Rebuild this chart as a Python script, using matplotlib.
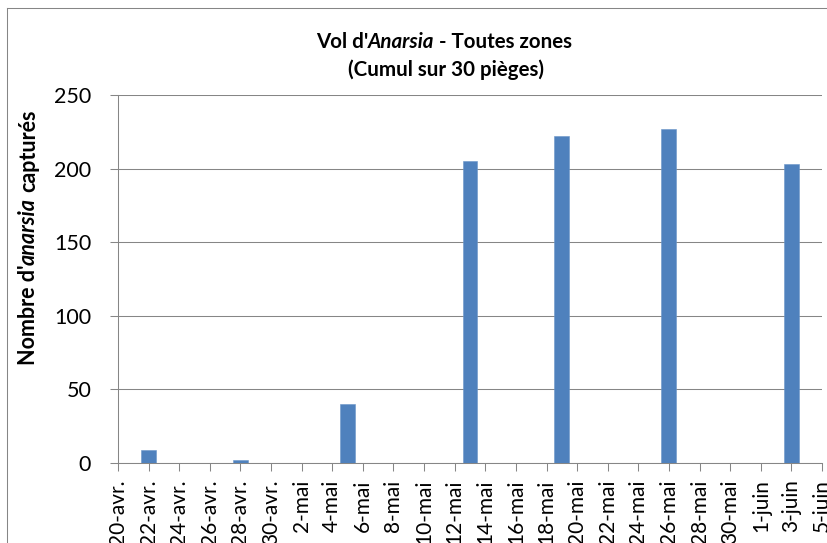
import matplotlib
matplotlib.use("Agg")
import matplotlib.pyplot as plt
import numpy as np
import pandas as pd
from matplotlib.lines import Line2D

# ---------------- data ----------------
dates = ["2013-04-22", "2013-04-28", "2013-05-05", "2013-05-13",
         "2013-05-19", "2013-05-26", "2013-06-03"]
captures = [9, 2, 40, 205, 222, 227, 203]

axis_start = "2013-04-20"
axis_end = "2013-06-05"
tick_labels = ["20-avr.", "22-avr.", "24-avr.", "26-avr.", "28-avr.", "30-avr.",
               "2-mai", "4-mai", "6-mai", "8-mai", "10-mai", "12-mai", "14-mai",
               "16-mai", "18-mai", "20-mai", "22-mai", "24-mai", "26-mai",
               "28-mai", "30-mai", "1-juin", "3-juin", "5-juin"]
y_ticks = [0, 50, 100, 150, 200, 250]

title_line1 = [("Vol d'", False), ("Anarsia", True), (" - Toutes zones", False)]
title_line2 = "(Cumul sur 30 pièges)"
ylabel_parts = [("Nombre d'", False), ("anarsia", True), (" capturés", False)]

# ---------------- style ----------------
FONT = ["Lato", "DejaVu Sans"]
plt.rcParams["font.family"] = FONT
W, H = 827, 543
BAR = "#4F81BD"
GRID = "#868686"

fig = plt.figure(figsize=(W / 100, H / 100), dpi=100)
fig.patch.set_facecolor("white")

left, right, top, bottom = 118, 822, 95, 463
ax = fig.add_axes([left / W, (H - bottom) / H, (right - left) / W, (bottom - top) / H])

x = pd.to_datetime(dates)
ax.bar(x, captures, width=0.98, color=BAR, edgecolor="#6A95C9", linewidth=0.4, zorder=3)

ticks = pd.date_range(axis_start, axis_end, freq="2D")
ax.set_xlim(pd.Timestamp(axis_start), pd.Timestamp(axis_end))
ax.set_xticks(ticks)
ax.set_xticklabels(tick_labels, rotation=90, fontsize=15, color="black")
ax.set_ylim(0, 250)
ax.set_yticks(y_ticks)
ax.set_yticklabels([str(v) for v in y_ticks], fontsize=15.5)

ax.tick_params(axis="x", direction="out", length=5.8, width=0.75, color=GRID, pad=6)
ax.tick_params(axis="y", direction="out", length=5.8, width=0.75, color=GRID, pad=13.5)
ax.yaxis.grid(True, color=GRID, linewidth=0.75, zorder=0)
ax.set_axisbelow(True)
for s in ["top", "right"]:
    ax.spines[s].set_visible(False)
for s in ["left", "bottom"]:
    ax.spines[s].set_color(GRID)
    ax.spines[s].set_linewidth(0.75)

# outer chart border (only left/top visible in crop)
fig.add_artist(Line2D([7 / W, 7 / W], [0, 1 - 8 / H], color=GRID, lw=0.75))
fig.add_artist(Line2D([7 / W, 1], [1 - 8 / H, 1 - 8 / H], color=GRID, lw=0.75))

fig.canvas.draw()
renderer = fig.canvas.get_renderer()


def measure(s, italic, size):
    t = fig.text(0, 0, s, fontsize=size, fontweight="bold",
                 fontstyle="italic" if italic else "normal")
    w = t.get_window_extent(renderer).width
    t.remove()
    return w


def rich(parts, center_px, baseline_px, size, vertical=False):
    sp = measure("a a", False, size) - measure("aa", False, size)
    items = []
    total = 0.0
    for s, it in parts:
        lead = len(s) - len(s.lstrip(" "))
        core = s.strip(" ")
        w = measure(core, it, size)
        items.append((core, it, lead * sp, w))
        total += lead * sp + w
    pos = center_px - total / 2
    for core, it, gap, w in items:
        pos += gap
        if vertical:
            fig.text(baseline_px / W, pos / H, core, fontsize=size, fontweight="bold",
                     fontstyle="italic" if it else "normal", rotation=90,
                     rotation_mode="anchor", ha="left", va="baseline")
        else:
            fig.text(pos / W, baseline_px / H, core, fontsize=size, fontweight="bold",
                     fontstyle="italic" if it else "normal", ha="left", va="baseline")
        pos += w


# title
rich(title_line1, 444, H - 48, 14.8)
fig.text(446 / W, (H - 76) / H, title_line2, fontsize=14.8, fontweight="bold",
         ha="center", va="baseline")

# y label (vertical, centred on y=237 px from top, baseline at x=35 px)
rich(ylabel_parts, H - 237.5, 35, 15.5, vertical=True)

fig.savefig("out.png", dpi=100)
